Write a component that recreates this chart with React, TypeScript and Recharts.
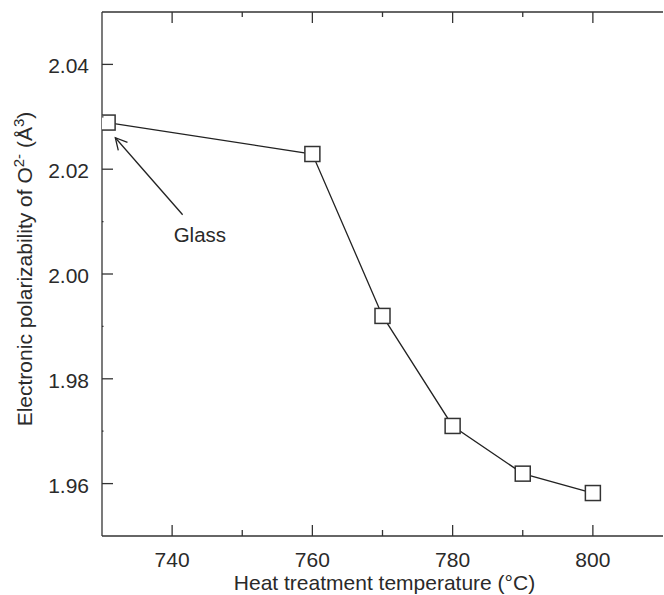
import React from "react";
import { LineChart, Line, XAxis, YAxis, ReferenceLine } from "recharts";

const temperatures = [730.8, 760, 770, 780, 790, 800];
const polarizability = [2.0289, 2.0229, 1.992, 1.971, 1.9619, 1.9582];
const xTicks = [740, 750, 760, 770, 780, 790, 800];
const yTicks = [1.96, 1.97, 1.98, 1.99, 2.0, 2.01, 2.02, 2.03, 2.04];
const glassArrow = [
  { x: 741.5, y: 2.0113 },
  { x: 731.9, y: 2.026 },
];

const data = temperatures.map((t, i) => ({ temp: t, value: polarizability[i] }));

const axisColor = "#333";
const textColor = "#2a2a2a";
const font = "'Liberation Sans', Arial, sans-serif";

const isMajorY = (v: number) => Math.round(v * 100) % 2 === 0;

function BottomTick({ x, y, payload }: any) {
  const major = payload.value % 20 === 0;
  return (
    <g>
      <line x1={x} x2={x} y1={y} y2={y - (major ? 11 : 6)} stroke={axisColor} strokeWidth={1.3} />
      {major && (
        <text x={x} y={y + 31} textAnchor="middle" fontSize={21} fontFamily={font} fill={textColor}>
          {payload.value}
        </text>
      )}
    </g>
  );
}

function TopTick({ x, y, payload }: any) {
  const major = payload.value % 20 === 0;
  return <line x1={x} x2={x} y1={y} y2={y + (major ? 11 : 5)} stroke={axisColor} strokeWidth={1.3} />;
}

function LeftTick({ x, y, payload }: any) {
  const major = isMajorY(payload.value);
  return (
    <g>
      <line x1={x} x2={x + (major ? 11 : 1.5)} y1={y} y2={y} stroke={axisColor} strokeWidth={1.3} />
      {major && (
        <text x={x - 13} y={y + 9} textAnchor="end" fontSize={21} fontFamily={font} fill={textColor}>
          {payload.value.toFixed(2)}
        </text>
      )}
    </g>
  );
}

function RightTick({ x, y, payload }: any) {
  const major = isMajorY(payload.value);
  return <line x1={x} x2={x - (major ? 10 : 1.5)} y1={y} y2={y} stroke={axisColor} strokeWidth={1.3} />;
}

function YTitle({ viewBox }: any) {
  const cx = viewBox.x + 32;
  const cy = viewBox.y + viewBox.height / 2 - 5;
  return (
    <text
      x={cx}
      y={cy}
      transform={`rotate(-90 ${cx} ${cy})`}
      textAnchor="middle"
      fontSize={21}
      fontFamily={font}
      fill={textColor}
    >
      Electronic polarizability of O
      <tspan dy={-8} fontSize={15}>2-</tspan>
      <tspan dy={8}> (Å</tspan>
      <tspan dy={-8} fontSize={15}>3</tspan>
      <tspan dy={8}>)</tspan>
    </text>
  );
}

function XTitle({ viewBox }: any) {
  return (
    <text
      x={viewBox.x + viewBox.width / 2 + 2}
      y={viewBox.y + 54}
      textAnchor="middle"
      fontSize={21}
      fontFamily={font}
      fill={textColor}
    >
      Heat treatment temperature (°C)
    </text>
  );
}

function SquareDot({ cx, cy, index }: any) {
  return (
    <rect
      key={index}
      x={cx - 7.5}
      y={cy - 7.5}
      width={15}
      height={15}
      fill="#fff"
      stroke={axisColor}
      strokeWidth={1.5}
    />
  );
}

function GlassArrow({ x1, y1, x2, y2 }: any) {
  const len = Math.hypot(x1 - x2, y1 - y2);
  const ux = (x1 - x2) / len;
  const uy = (y1 - y2) / len;
  const arm = (deg: number) => {
    const a = (deg * Math.PI) / 180;
    return [x2 + 13 * (ux * Math.cos(a) - uy * Math.sin(a)), y2 + 13 * (ux * Math.sin(a) + uy * Math.cos(a))];
  };
  const [ax, ay] = arm(-28);
  const [bx, by] = arm(28);
  return (
    <g>
      <line x1={x1} y1={y1} x2={x2} y2={y2} stroke="#222" strokeWidth={1.3} />
      <polyline points={`${ax},${ay} ${x2},${y2} ${bx},${by}`} fill="none" stroke="#222" strokeWidth={1.3} />
      <text x={x1 - 9} y={y1 + 27.5} fontSize={20.5} fontFamily={font} fill={textColor}>
        Glass
      </text>
    </g>
  );
}

export default function App() {
  return (
    <div style={{ position: "absolute", left: 0, top: 0, width: 664, height: 595, background: "#fff" }}>
      <LineChart width={664} height={595} data={data} margin={{ top: 11, right: 1, bottom: 0, left: 0 }}>
        <XAxis
          dataKey="temp"
          type="number"
          domain={[730, 810]}
          ticks={xTicks}
          interval={0}
          height={59}
          stroke={axisColor}
          strokeWidth={1.3}
          tickLine={false}
          tickSize={0}
          tickMargin={0}
          tick={<BottomTick />}
          label={<XTitle />}
          allowDataOverflow
        />
        <XAxis
          xAxisId="top"
          orientation="top"
          dataKey="temp"
          type="number"
          domain={[730, 810]}
          ticks={xTicks}
          interval={0}
          height={1}
          stroke={axisColor}
          strokeWidth={1.3}
          tickLine={false}
          tickSize={0}
          tickMargin={0}
          tick={<TopTick />}
          allowDataOverflow
        />
        <YAxis
          type="number"
          domain={[1.95, 2.05]}
          ticks={yTicks}
          interval={0}
          width={102}
          stroke={axisColor}
          strokeWidth={1.3}
          tickLine={false}
          tickSize={0}
          tickMargin={0}
          tick={<LeftTick />}
          label={<YTitle />}
          allowDataOverflow
        />
        <YAxis
          yAxisId="right"
          orientation="right"
          type="number"
          domain={[1.95, 2.05]}
          ticks={yTicks}
          interval={0}
          width={0}
          stroke={axisColor}
          strokeWidth={1.3}
          tickLine={false}
          tickSize={0}
          tickMargin={0}
          tick={<RightTick />}
          allowDataOverflow
        />
        <ReferenceLine segment={glassArrow} shape={(p: any) => <GlassArrow {...p} />} />
        <Line
          xAxisId="top"
          yAxisId="right"
          type="linear"
          dataKey="value"
          stroke="none"
          dot={false}
          activeDot={false}
          legendType="none"
          isAnimationActive={false}
        />
        <Line
          type="linear"
          dataKey="value"
          stroke="#222"
          strokeWidth={1.3}
          dot={(p: any) => <SquareDot {...p} />}
          activeDot={false}
          isAnimationActive={false}
        />
      </LineChart>
    </div>
  );
}
